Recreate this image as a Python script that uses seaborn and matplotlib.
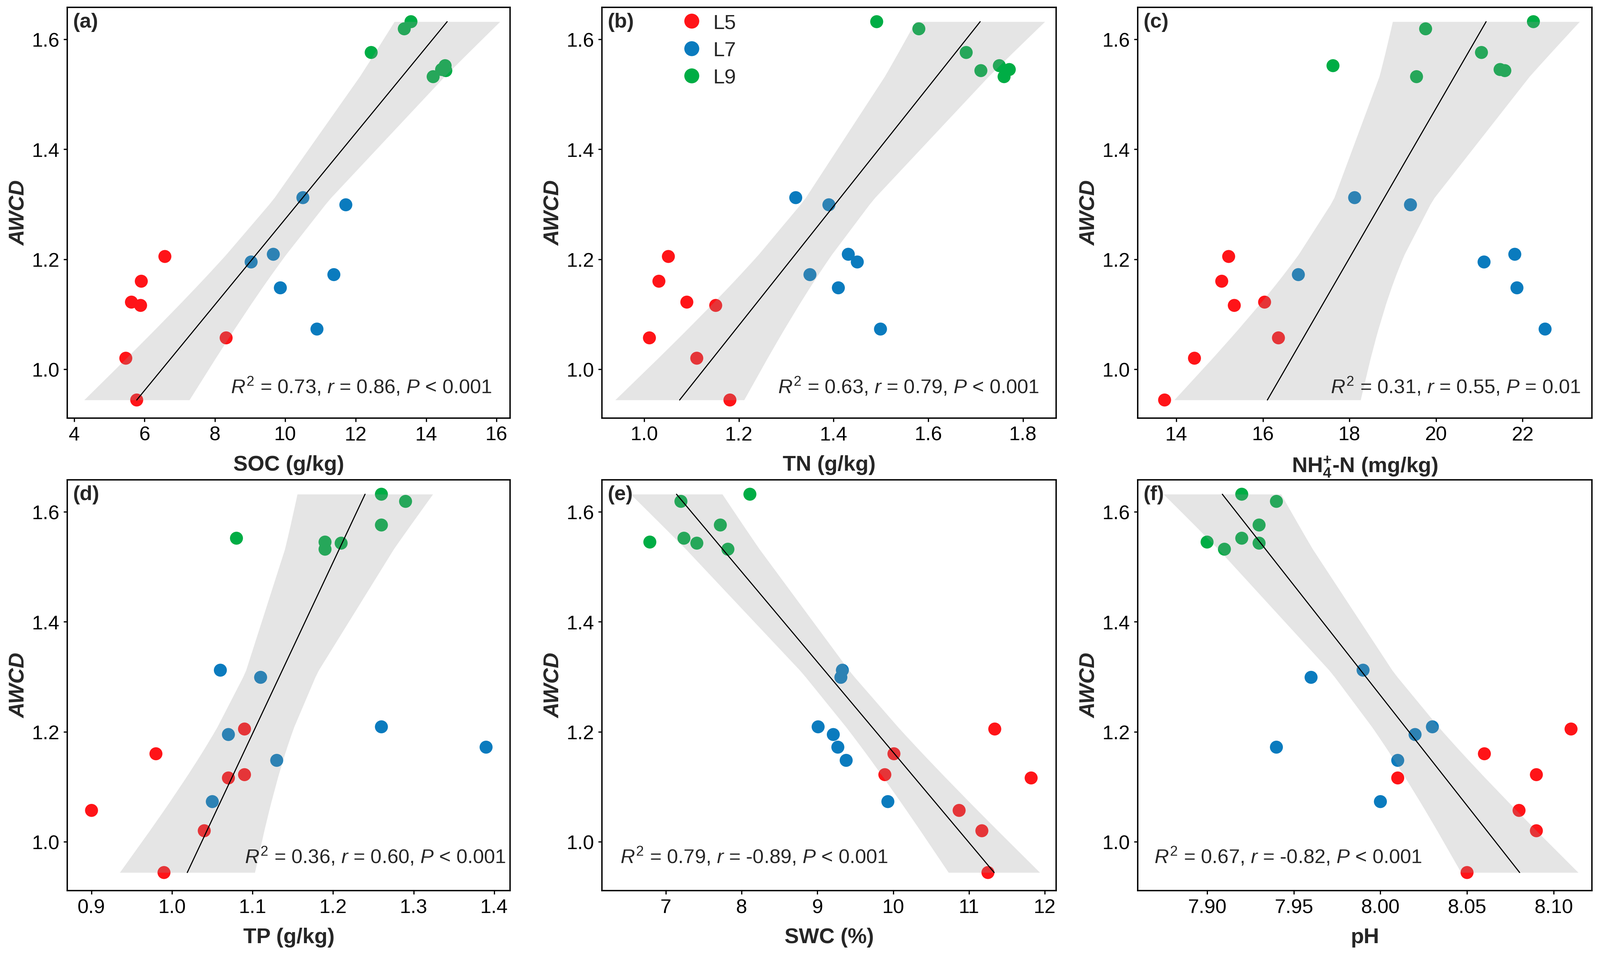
import numpy as np
import pandas as pd
import matplotlib
matplotlib.use("Agg")
import matplotlib.pyplot as plt
import seaborn as sns

# ---------------- data ----------------
groups = ["L5", "L7", "L9"]
awcd_L5 = [1.205, 1.160, 1.122, 1.116, 1.057, 1.020, 0.944]
awcd_L7 = [1.312, 1.299, 1.209, 1.195, 1.172, 1.148, 1.073]
awcd_L9 = [1.632, 1.619, 1.576, 1.552, 1.545, 1.543, 1.532]

soc_L5 = [6.58, 5.91, 5.63, 5.89, 8.32, 5.47, 5.78]
soc_L7 = [10.50, 11.72, 9.66, 9.03, 11.38, 9.86, 10.90]
soc_L9 = [13.57, 13.38, 12.44, 14.54, 14.44, 14.56, 14.20]

tn_L5 = [1.051, 1.031, 1.090, 1.151, 1.011, 1.111, 1.181]
tn_L7 = [1.320, 1.390, 1.431, 1.450, 1.350, 1.410, 1.499]
tn_L9 = [1.491, 1.580, 1.680, 1.750, 1.771, 1.711, 1.760]

nh4_L5 = [15.21, 15.05, 16.04, 15.34, 16.36, 14.42, 13.73]
nh4_L7 = [18.12, 19.41, 21.82, 21.11, 16.82, 21.87, 22.52]
nh4_L9 = [22.25, 19.76, 21.05, 17.62, 21.48, 21.59, 19.55]

tp_L5 = [1.090, 0.980, 1.090, 1.070, 0.900, 1.040, 0.990]
tp_L7 = [1.060, 1.110, 1.260, 1.070, 1.390, 1.130, 1.050]
tp_L9 = [1.260, 1.290, 1.260, 1.080, 1.190, 1.210, 1.190]

swc_L5 = [11.34, 10.01, 9.89, 11.82, 10.87, 11.17, 11.25]
swc_L7 = [9.33, 9.31, 9.01, 9.21, 9.27, 9.38, 9.93]
swc_L9 = [8.11, 7.20, 7.72, 7.24, 6.79, 7.41, 7.82]

ph_L5 = [8.11, 8.06, 8.09, 8.01, 8.08, 8.09, 8.05]
ph_L7 = [7.99, 7.96, 8.03, 8.02, 7.94, 8.01, 8.00]
ph_L9 = [7.92, 7.94, 7.93, 7.92, 7.90, 7.93, 7.91]

panel_tags = ["(a)", "(b)", "(c)", "(d)", "(e)", "(f)"]
x_labels = ["SOC (g/kg)", "TN (g/kg)", r"NH$_\mathbf{4}^\mathbf{+}$-N (mg/kg)",
            "TP (g/kg)", "SWC (%)", "pH"]
stat_texts = [
    r"$\mathit{R}^\mathrm{2}$ = 0.73, $\mathit{r}$ = 0.86, $\mathit{P}$ < 0.001",
    r"$\mathit{R}^\mathrm{2}$ = 0.63, $\mathit{r}$ = 0.79, $\mathit{P}$ < 0.001",
    r"$\mathit{R}^\mathrm{2}$ = 0.31, $\mathit{r}$ = 0.55, $\mathit{P}$ = 0.01",
    r"$\mathit{R}^\mathrm{2}$ = 0.36, $\mathit{r}$ = 0.60, $\mathit{P}$ < 0.001",
    r"$\mathit{R}^\mathrm{2}$ = 0.79, $\mathit{r}$ = -0.89, $\mathit{P}$ < 0.001",
    r"$\mathit{R}^\mathrm{2}$ = 0.67, $\mathit{r}$ = -0.82, $\mathit{P}$ < 0.001",
]
x_ticks = [
    [4, 6, 8, 10, 12, 14, 16],
    [1.0, 1.2, 1.4, 1.6, 1.8],
    [14, 16, 18, 20, 22],
    [0.9, 1.0, 1.1, 1.2, 1.3, 1.4],
    [7, 8, 9, 10, 11, 12],
    [7.90, 7.95, 8.00, 8.05, 8.10],
]
x_fmt = ["{:.0f}", "{:.1f}", "{:.0f}", "{:.1f}", "{:.0f}", "{:.2f}"]
y_ticks = [1.0, 1.2, 1.4, 1.6]

# ---------------- style ----------------
palette = {"L5": "#FF1418", "L7": "#0A7BBE", "L9": "#00AD45"}
band_color = "#999999"

sns.set_theme(style="ticks")
plt.rcParams["font.family"] = ["Liberation Sans", "DejaVu Sans"]
plt.rcParams["mathtext.fontset"] = "custom"
plt.rcParams["mathtext.rm"] = "Liberation Sans"
plt.rcParams["mathtext.it"] = "Liberation Sans:italic"
plt.rcParams["mathtext.bf"] = "Liberation Sans:bold"

FS = 13
T975_DF19 = 2.093  # Student t quantile, 0.975, df = n - 2 = 19

awcd = {"L5": awcd_L5, "L7": awcd_L7, "L9": awcd_L9}
variables = [
    {"L5": soc_L5, "L7": soc_L7, "L9": soc_L9},
    {"L5": tn_L5, "L7": tn_L7, "L9": tn_L9},
    {"L5": nh4_L5, "L7": nh4_L7, "L9": nh4_L9},
    {"L5": tp_L5, "L7": tp_L7, "L9": tp_L9},
    {"L5": swc_L5, "L7": swc_L7, "L9": swc_L9},
    {"L5": ph_L5, "L7": ph_L7, "L9": ph_L9},
]

# layout (figure fractions) and limits
col_left = [0.0421, 0.3763, 0.7111]
col_width = [0.2768, 0.2838, 0.2838]
row_bottom = [0.5624, 0.0683]
row_height = 0.4295
xlims = [(3.81, 16.39), (0.911, 1.870), (13.11, 23.60),
         (0.870, 1.420), (6.16, 12.15), (7.860, 8.122)]
ylim = (0.911, 1.658)
stat_pos = [(0.958, 0.077, "right"), (0.962, 0.077, "right"), (0.975, 0.077, "right"),
            (0.99, 0.084, "right"), (0.04, 0.084, "left"), (0.036, 0.084, "left")]

fig = plt.figure(figsize=(4354 / 300, 2603 / 300), dpi=300)

for i in range(6):
    r, c = divmod(i, 3)
    ax = fig.add_axes([col_left[c], row_bottom[r], col_width[c], row_height])
    var = variables[i]
    df = pd.DataFrame({
        "x": np.concatenate([var[g] for g in groups]),
        "AWCD": np.concatenate([awcd[g] for g in groups]),
        "Group": np.repeat(groups, [len(var[g]) for g in groups]),
    })
    sns.scatterplot(data=df, x="x", y="AWCD", hue="Group", hue_order=groups,
                    palette=palette, s=72, linewidth=0, ax=ax,
                    legend=(i == 1), zorder=2)

    # regression of the soil variable on AWCD, evaluated at the observed AWCD values
    yv = df["AWCD"].to_numpy()
    xv = df["x"].to_numpy()
    n = len(yv)
    b, a = np.polyfit(yv, xv, 1)
    resid = xv - (a + b * yv)
    s = np.sqrt(np.sum(resid ** 2) / (n - 2))
    yg = np.unique(yv)
    xf = a + b * yg
    se = s * np.sqrt(1.0 / n + (yg - yv.mean()) ** 2 / np.sum((yv - yv.mean()) ** 2))
    ax.fill_betweenx(yg, xf - T975_DF19 * se, xf + T975_DF19 * se,
                     color=band_color, alpha=0.25, linewidth=0, zorder=3)
    ax.plot(xf, yg, color="black", lw=0.7, zorder=4)

    ax.set_xlim(*xlims[i])
    ax.set_ylim(*ylim)
    ax.set_xticks(x_ticks[i])
    ax.set_xticklabels([x_fmt[i].format(v) for v in x_ticks[i]])
    ax.set_yticks(y_ticks)
    ax.set_yticklabels(["{:.1f}".format(v) for v in y_ticks])
    ax.tick_params(axis="both", direction="out", length=2.5, width=0.8,
                   colors="black", labelsize=FS, pad=2.5)
    for sp in ax.spines.values():
        sp.set_visible(True)
        sp.set_color("black")
        sp.set_linewidth(0.9)
    ax.set_xlabel(x_labels[i], fontsize=FS + 1, fontweight="bold", labelpad=7)
    ax.set_ylabel("AWCD", fontsize=FS + 1, fontweight="bold", fontstyle="italic",
                  labelpad=2)
    ax.text(0.012, 0.988, panel_tags[i], transform=ax.transAxes, ha="left", va="top",
            fontsize=FS + 0.5, fontweight="bold")
    sx, sy, ha = stat_pos[i]
    ax.text(sx, sy, stat_texts[i], transform=ax.transAxes, ha=ha, va="center",
            fontsize=FS)
    ax.grid(False)
    ax.set_facecolor("white")

    if i == 1:
        leg = ax.legend(loc="upper left", bbox_to_anchor=(0.115, 1.025), frameon=False,
                        fontsize=FS + 0.5, title=None, handletextpad=0.05,
                        labelspacing=0.4, borderpad=0.3, markerscale=1.15)

fig.savefig("out.png", dpi=300, facecolor="white")
